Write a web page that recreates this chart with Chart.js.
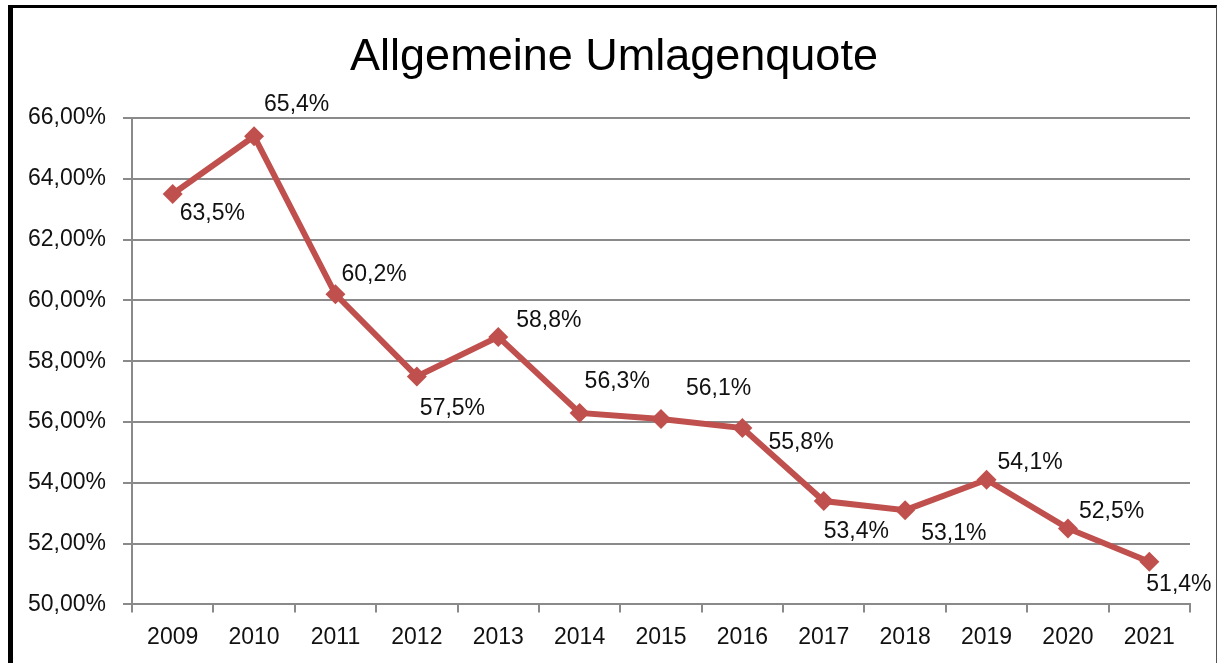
<!DOCTYPE html>
<html lang="de">
<head>
<meta charset="utf-8">
<title>Allgemeine Umlagenquote</title>
<script src="https://cdn.jsdelivr.net/npm/chart.js@4/dist/chart.umd.min.js"></script>
<style>
  html, body { margin: 0; padding: 0; background: #fff; overflow: hidden; }
  #wrap { position: relative; width: 1218px; height: 663px; }
  #frame {
    position: absolute; left: 8px; top: 5px; width: 1203px; height: 700px;
    border-left: 5px solid #000; border-top: 3px solid #000; border-right: 1px solid #555;
    pointer-events: none;
  }
</style>
</head>
<body>
<div id="wrap">
  <canvas id="chart" width="1218" height="663"></canvas>
  <div id="frame"></div>
</div>
<script>
/* ---------- DATA ---------- */
const years = ['2009', '2010', '2011', '2012', '2013', '2014', '2015', '2016', '2017', '2018', '2019', '2020', '2021'];
const quote = [63.5, 65.4, 60.2, 57.5, 58.8, 56.3, 56.1, 55.8, 53.4, 53.1, 54.1, 52.5, 51.4];
const yTicks = [50, 52, 54, 56, 58, 60, 62, 64, 66];

// label placement relative to each marker (left edge, vertical centre)
const labelDx = [7, 10, 6, 3, 18, 5, 25, 26, 0, 16, 11, 11, -3];
const labelDy = [20, -32, -20, 32, -16, -31, -30, 15, 31, 23, -17, -17, 23];

const FONT = '"Liberation Sans", Arial, sans-serif';
const RED = '#C0504D';
const GRID = '#8a8a8a';

const fmtPct = v => v.toFixed(1).replace('.', ',') + '%';

/* ---------- LABEL PLUGIN ---------- */
const pointLabels = {
  id: 'pointLabels',
  afterDatasetsDraw(chart) {
    const ctx = chart.ctx;
    const meta = chart.getDatasetMeta(0);
    ctx.save();
    ctx.font = '23px ' + FONT;
    ctx.fillStyle = '#111';
    ctx.textAlign = 'left';
    ctx.textBaseline = 'middle';
    meta.data.forEach((pt, i) => {
      ctx.fillText(fmtPct(quote[i]), pt.x + labelDx[i], pt.y + labelDy[i]);
    });
    ctx.restore();
  }
};

/* ---------- CHART ---------- */
new Chart(document.getElementById('chart'), {
  type: 'line',
  data: {
    labels: years,
    datasets: [{
      data: quote,
      borderColor: RED,
      backgroundColor: RED,
      borderWidth: 6,
      tension: 0,
      pointStyle: 'rectRot',
      pointRadius: 10,
      pointBorderWidth: 0,
      pointBackgroundColor: RED,
      fill: false
    }]
  },
  options: {
    responsive: false,
    animation: false,
    layout: { padding: { left: 10, right: 0, top: 0, bottom: 1 } },
    plugins: {
      legend: { display: false },
      tooltip: { enabled: false },
      title: {
        display: true,
        text: 'Allgemeine Umlagenquote',
        color: '#000',
        font: { family: FONT, size: 45, weight: 'normal', lineHeight: 1.2 },
        padding: { top: 31, bottom: 33 }
      }
    },
    scales: {
      x: {
        offset: true,
        grid: { offset: true, drawOnChartArea: false, drawTicks: true, tickLength: 8, color: GRID, lineWidth: 2 },
        border: { color: GRID, width: 2 },
        ticks: { color: '#111', padding: 11, maxRotation: 0, font: { family: FONT, size: 23 } }
      },
      y: {
        min: 50,
        max: 66,
        afterFit(scale) { scale.width = 122; },
        afterBuildTicks(scale) { scale.ticks = yTicks.map(v => ({ value: v })); },
        grid: { color: GRID, lineWidth: 2, tickLength: 9 },
        border: { color: GRID, width: 2 },
        ticks: {
          color: '#111',
          padding: 17,
          font: { family: FONT, size: 23 },
          callback: v => v.toFixed(2).replace('.', ',') + '%'
        }
      },
      // empty right-hand spacer so the plot ends where the original does
      spacer: {
        position: 'right',
        min: 50,
        max: 66,
        afterFit(scale) { scale.width = 28; },
        grid: { display: false },
        border: { display: false },
        ticks: { display: false }
      }
    }
  },
  plugins: [pointLabels]
});
</script>
</body>
</html>
